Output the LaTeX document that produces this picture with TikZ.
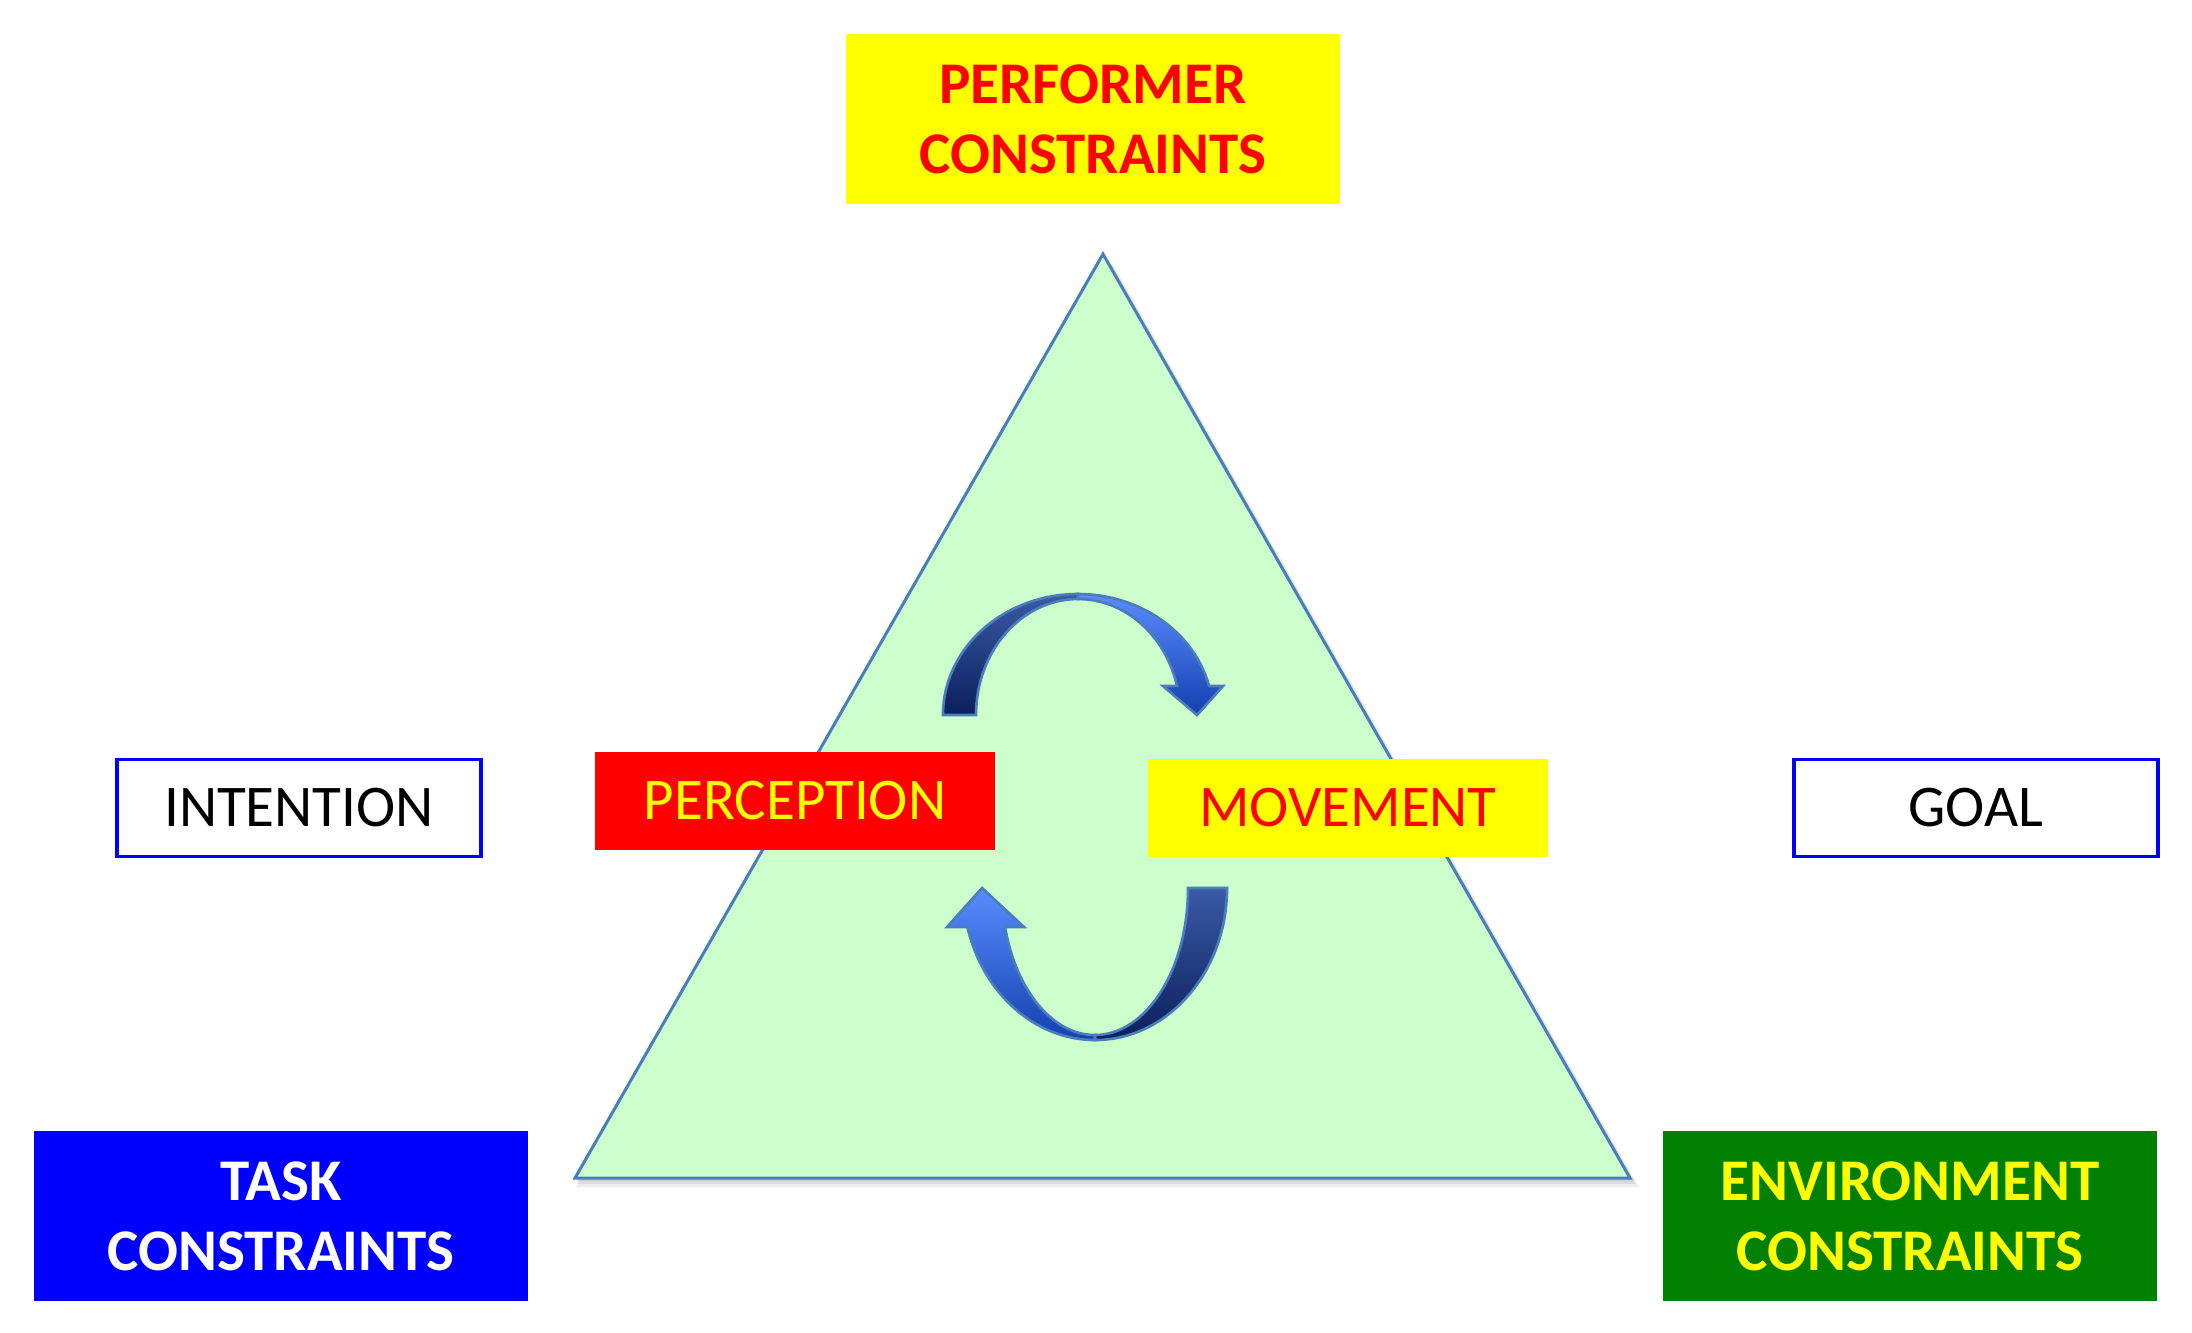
\documentclass[tikz,border=0pt]{standalone}
\usepackage{fontspec}
\setmainfont{Carlito}
\usetikzlibrary{calc}
\definecolor{cTri}{HTML}{CCFFCC}
\definecolor{cTriL}{HTML}{4A7EBB}
\definecolor{cArrLt}{HTML}{5A8CFF}
\definecolor{cArrLb}{HTML}{1440B0}
\definecolor{cArrDt}{HTML}{3A5AA6}
\definecolor{cArrDb}{HTML}{0B1F5C}
\definecolor{cBlue}{HTML}{0000FF}
\definecolor{cGreen}{HTML}{008000}
\definecolor{cYellow}{HTML}{FFFF00}
\definecolor{cRed}{HTML}{FF0000}

\begin{document}
\begin{tikzpicture}[
  % pixel-like units, y running downwards
  x=0.01cm, y=-0.01cm,
  font=\fontsize{16.8}{21}\selectfont,
  cbox/.style={minimum width=4.93cm, minimum height=1.69cm, align=center,
               inner sep=0pt, font=\fontsize{16.8}{19.9}\selectfont\bfseries},
  lbox/.style={minimum width=3.64cm, minimum height=0.97cm, inner sep=0pt,
               fill=white, draw=cBlue, line width=1.1pt},
  pbox/.style={minimum width=3.99cm, minimum height=0.98cm, inner sep=0pt},
  band/.style={draw=cTriL, line width=0.75pt},
]
  \useasboundingbox (0,0) rectangle (2192,1332);

  % --- triangle with a soft shadow ---
  \coordinate (apex) at (1103,254);
  \coordinate (bl) at (575,1178);
  \coordinate (br) at (1630,1178);
  \foreach \d in {3,6,9}{
    \fill[black, opacity=0.07] ($(bl)+(1,\d)$) -- ($(br)+(\d,\d)$) -- ($(apex)+(\d,\d)$) -- cycle;
  }
  \filldraw[fill=cTri, draw=cTriL, line width=0.85pt] (apex) -- (br) -- (bl) -- cycle;

  % --- upper curved arrow ---
  \path[band, top color=cArrDt, bottom color=cArrDb]
    (943,715) arc[start angle=180, end angle=270, x radius=135, y radius=121]
    -- (1078,599) arc[start angle=270, end angle=180, x radius=102, y radius=116]
    -- cycle;
  \path[band, top color=cArrLt, bottom color=cArrLb]
    (1078,594) arc[start angle=270, end angle=346.1, x radius=135, y radius=121]
    -- (1223,686) -- (1197,715) -- (1163,686) -- (1177,686)
    arc[start angle=345.5, end angle=270, x radius=102, y radius=116] -- cycle;

  % --- lower curved arrow ---
  \path[band, top color=cArrDt, bottom color=cArrDb]
    (1227,888) arc[start angle=0, end angle=90, x radius=132, y radius=152]
    -- (1095,1035) arc[start angle=90, end angle=0, x radius=93, y radius=147]
    -- cycle;
  \path[band, top color=cArrLt, bottom color=cArrLb]
    (1095,1040) arc[start angle=90, end angle=165.1, x radius=132, y radius=152]
    -- (947,927) -- (982,888) -- (1024,927) -- (1005,927)
    arc[start angle=164.6, end angle=90, x radius=93, y radius=147] -- cycle;

  % --- constraint boxes ---
  \foreach \name/\x/\y/\bg/\ink/\txt in {
      perf/1093/119/cYellow/cRed/{PERFORMER\\CONSTRAINTS},
      task/281/1216/cBlue/white/{TASK\\CONSTRAINTS},
      env/1910/1216/cGreen/cYellow/{ENVIRONMENT\\CONSTRAINTS}%
  }{
    \node[cbox, fill=\bg, text=\ink] (\name) at (\x,\y) {\txt};
  }

  % --- side labels ---
  \node[lbox] (intention) at (299,808) {INTENTION};
  \node[lbox] (goal) at (1976,808) {GOAL};

  % --- perception / movement ---
  \node[pbox, fill=cRed, text=cYellow] (perception) at (795,801) {PERCEPTION};
  \node[pbox, fill=cYellow, text=cRed] (movement) at (1348,808) {MOVEMENT};
\end{tikzpicture}
\end{document}
